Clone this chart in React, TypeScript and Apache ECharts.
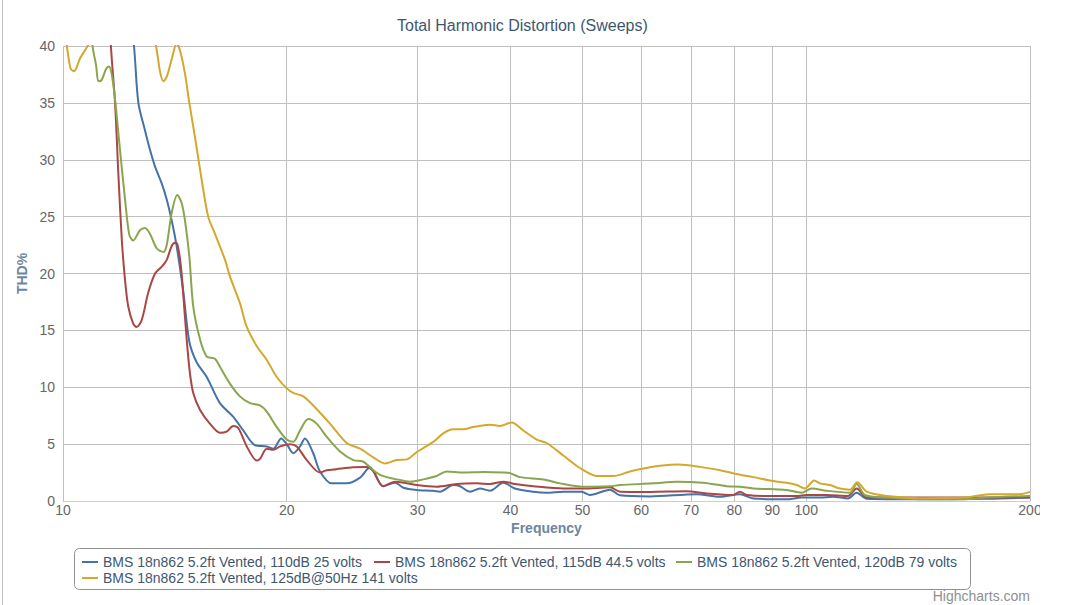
import React, { useEffect, useRef } from "react";
import * as echarts from "echarts";

const FONT = "'Liberation Sans', Arial, Helvetica, sans-serif";

const TITLE = "Total Harmonic Distortion (Sweeps)";
const X_NAME = "Frequency";
const Y_NAME = "THD%";
const FREQ_TICKS = [10, 20, 30, 40, 50, 60, 70, 80, 90, 100, 200];

const SERIES_NAMES = [
  "BMS 18n862 5.2ft Vented, 110dB 25 volts",
  "BMS 18n862 5.2ft Vented, 115dB 44.5 volts",
  "BMS 18n862 5.2ft Vented, 120dB 79 volts",
  "BMS 18n862 5.2ft Vented, 125dB@50Hz 141 volts",
];
const SERIES_COLORS = ["#4572A7", "#AA4643", "#89A54E", "#D4A82C"];

const blue110: [number, number][] = [
  [10, 80], [11.8, 55], [12.46, 40], [12.63, 35], [12.89, 32.6], [13.09, 30.9], [13.3, 29.4],
  [13.58, 27.9], [13.79, 26.5], [14.0, 24.7], [14.22, 22.4], [14.51, 18.5], [14.79, 14.0],
  [15.13, 12.2], [15.61, 10.9], [16.26, 8.6], [16.95, 7.4], [17.48, 6.2], [18.13, 4.9],
  [18.8, 4.8], [19.19, 4.6], [19.66, 5.5], [20.0, 5.0], [20.41, 4.2], [20.84, 4.8],
  [21.16, 5.5], [21.71, 4.2], [22.17, 2.6], [22.99, 1.55], [24.08, 1.55], [25.1, 2.05],
  [25.88, 2.96], [26.97, 1.3], [27.97, 1.6], [28.7, 1.17], [29.92, 0.97], [31.49, 0.9],
  [32.15, 0.82], [33.51, 1.4], [34.21, 1.3], [35.29, 0.82], [36.39, 1.1], [37.54, 0.9],
  [39.12, 1.6], [40.56, 1.1], [42.94, 0.82], [44.75, 0.73], [47.11, 0.82], [49.87, 0.82],
  [51.17, 0.53], [54.45, 1.0], [56.16, 0.5], [61.61, 0.4], [71.2, 0.6], [76.54, 0.38],
  [81.43, 0.6], [84.86, 0.23], [94.1, 0.15], [98.58, 0.3], [104.3, 0.3], [108.6, 0.38],
  [113.8, 0.23], [116.9, 0.73], [120.6, 0.2], [142.2, 0.15], [175, 0.2], [200, 0.3],
];

const red115: [number, number][] = [
  [10, 90], [11.3, 55], [11.6, 40], [11.75, 35], [11.87, 28.8], [12.0, 22.9], [12.12, 19.4],
  [12.24, 17.1], [12.43, 15.6], [12.56, 15.3], [12.76, 15.9], [13.02, 18.3], [13.3, 20.0],
  [13.58, 20.6], [13.79, 21.2], [14.0, 22.4], [14.15, 22.7], [14.25, 22.6], [14.41, 20.6],
  [14.59, 16.2], [14.7, 13.5], [14.82, 11.2], [14.97, 9.5], [15.29, 8.0], [15.76, 6.8],
  [16.26, 6.0], [16.6, 6.1], [16.95, 6.6], [17.22, 6.4], [17.67, 4.8], [18.23, 3.55],
  [18.41, 3.7], [18.8, 4.6], [19.19, 4.5], [19.59, 4.8], [20.2, 5.0], [20.63, 4.8],
  [21.28, 3.6], [22.17, 2.5], [22.63, 2.7], [23.34, 2.8], [24.58, 2.96], [25.63, 3.0],
  [26.15, 2.6], [26.97, 1.3], [27.97, 1.7], [29.92, 1.4], [31.82, 1.26], [33.86, 1.5],
  [36.03, 1.55], [37.54, 1.5], [39.12, 1.7], [40.56, 1.5], [42.94, 1.3], [47.11, 1.1],
  [50.12, 1.1], [54.45, 1.2], [56.16, 0.82], [61.61, 0.8], [69.02, 0.85], [73.45, 0.67],
  [79.68, 0.53], [81.43, 0.82], [83.14, 0.53], [89.38, 0.44], [97.07, 0.44], [100.1, 0.53],
  [106.5, 0.53], [113.8, 0.44], [116.9, 1.1], [120.6, 0.32], [200, 0.3],
];

const green120: [number, number][] = [
  [10, 70], [10.7, 50], [10.96, 40], [11.08, 38.3], [11.16, 36.9], [11.27, 37.0], [11.43, 38.0],
  [11.53, 38.2], [11.63, 37.5], [11.75, 35.3], [11.93, 30.9], [12.12, 26.5], [12.28, 23.4],
  [12.43, 22.9], [12.69, 23.8], [12.89, 24.0], [13.09, 23.5], [13.37, 22.2], [13.65, 21.9],
  [13.79, 22.5], [14.0, 25.3], [14.25, 26.9], [14.44, 26.2], [14.59, 24.7], [14.79, 21.5],
  [14.97, 17.1], [15.29, 14.2], [15.61, 12.7], [16.01, 12.5], [16.26, 11.8], [16.78, 10.3],
  [17.3, 9.2], [17.85, 8.6], [18.41, 8.4], [18.8, 7.85], [19.39, 6.5], [20.0, 5.4],
  [20.41, 5.2], [20.84, 6.2], [21.38, 7.2], [21.94, 6.8], [22.63, 5.65], [23.59, 4.35],
  [24.58, 3.6], [25.36, 3.45], [26.15, 2.7], [26.7, 2.3], [27.26, 2.1], [28.12, 1.9],
  [29.3, 1.7], [30.53, 1.9], [31.82, 2.2], [32.83, 2.6], [34.56, 2.5], [36.77, 2.55],
  [39.12, 2.5], [39.94, 2.45], [41.2, 2.1], [44.29, 1.9], [46.63, 1.55], [50.12, 1.26],
  [54.45, 1.3], [56.16, 1.4], [62.18, 1.55], [66.92, 1.7], [72.68, 1.6], [78.14, 1.3],
  [81.43, 1.25], [84.86, 1.1], [94.1, 0.97], [98.58, 0.73], [101.7, 1.1], [106.5, 0.9],
  [114.5, 0.73], [116.9, 1.5], [119.9, 0.53], [128.3, 0.3], [142.2, 0.15], [162.5, 0.15],
  [174.9, 0.3], [200, 0.45],
];

const yellow125: [number, number][] = [
  [10, 42], [10.12, 40], [10.24, 38.0], [10.35, 37.8], [10.54, 38.9], [10.7, 39.6], [10.81, 40.1],
  [11.2, 43], [12.3, 45], [13.0, 43], [13.34, 40], [13.51, 37.7], [13.65, 36.9], [13.79, 37.3],
  [14.0, 38.8], [14.22, 40.2], [14.37, 39.6], [14.59, 37.6], [14.79, 35.0], [15.05, 32.0],
  [15.37, 28.2], [15.68, 25.0], [16.01, 23.5], [16.52, 21.2], [16.78, 19.7], [17.3, 17.4],
  [17.67, 15.3], [18.23, 13.6], [18.8, 12.4], [19.39, 10.9], [20.0, 9.9], [20.41, 9.5],
  [21.05, 9.2], [21.71, 8.4], [22.87, 6.8], [24.08, 5.1], [25.1, 4.6], [26.15, 3.84],
  [27.12, 3.3], [28.12, 3.6], [29.01, 3.66], [29.92, 4.3], [31.49, 5.2], [32.48, 5.95],
  [33.51, 6.3], [34.56, 6.3], [35.65, 6.5], [37.54, 6.7], [38.72, 6.6], [40.14, 6.9],
  [41.63, 6.2], [43.39, 5.4], [44.75, 5.1], [47.11, 4.0], [49.61, 2.9], [52.24, 2.2],
  [55.0, 2.2], [57.93, 2.6], [61.61, 2.96], [63.54, 3.1], [67.25, 3.2], [71.94, 3.0],
  [76.54, 2.7], [80.18, 2.4], [84.86, 2.1], [90.29, 1.75], [94.1, 1.6], [97.07, 1.4],
  [99.6, 1.1], [102.5, 1.8], [104.3, 1.55], [107.6, 1.4], [111.0, 1.1], [114.5, 1.0],
  [117.1, 1.65], [120.6, 0.82], [128.3, 0.44], [142.2, 0.25], [162.5, 0.3], [176.7, 0.6],
  [193.9, 0.6], [200, 0.8],
];

const SERIES_DATA = [blue110, red115, green120, yellow125];

const LEGEND_LEFT = [82, 374, 676, 82];
const LEGEND_TOP = [555, 555, 555, 571];

export default function App() {
  const ref = useRef<HTMLDivElement>(null);

  useEffect(() => {
    if (!ref.current) return;
    const chart = echarts.init(ref.current, null, { renderer: "svg" });

    const series: any[] = SERIES_DATA.map((d, i) => ({
      name: SERIES_NAMES[i],
      type: "line",
      data: d,
      color: SERIES_COLORS[i],
      showSymbol: false,
      symbol: "none",
      smooth: 0.3,
      clip: true,
      z: 2,
      lineStyle: { width: 2, color: SERIES_COLORS[i] },
      emphasis: { disabled: true },
    }));

    series[0].markLine = {
      silent: true,
      z: 1,
      symbol: ["none", "none"],
      animation: false,
      lineStyle: { color: "#C0C0C0", width: 1, type: "solid" },
      label: {
        show: true,
        position: "start",
        distance: 2,
        formatter: "{b}",
        color: "#666666",
        fontSize: 14,
        fontFamily: FONT,
      },
      emphasis: { disabled: true },
      data: FREQ_TICKS.map((f) => ({ xAxis: f, name: String(f) })),
    };

    const option: any = {
      animation: false,
      textStyle: { fontFamily: FONT },
      title: {
        text: TITLE,
        left: 397,
        top: 17,
        padding: 0,
        textStyle: { color: "#3E576F", fontSize: 16, fontWeight: "normal", fontFamily: FONT },
      },
      grid: { left: 63, right: 40, top: 46, bottom: 104, containLabel: false, outerBoundsMode: "none" },
      xAxis: {
        type: "log",
        logBase: 10,
        min: 10,
        max: 200,
        name: X_NAME,
        nameLocation: "middle",
        nameGap: 20,
        nameTextStyle: { color: "#6D869F", fontSize: 14, fontWeight: "bold", fontFamily: FONT },
        axisLine: { show: true, lineStyle: { color: "#C0D0E0", width: 1 } },
        axisTick: { show: false },
        axisLabel: { show: false },
        splitLine: { show: false },
      },
      yAxis: {
        type: "value",
        min: 0,
        max: 40,
        interval: 5,
        name: Y_NAME,
        nameLocation: "middle",
        nameRotate: 90,
        nameGap: 30,
        nameTextStyle: { color: "#6D869F", fontSize: 14, fontWeight: "bold", fontFamily: FONT },
        axisLine: { show: false },
        axisTick: { show: false },
        axisLabel: { color: "#666666", fontSize: 14, margin: 8, fontFamily: FONT },
        splitLine: { show: true, lineStyle: { color: "#C0C0C0", width: 1 } },
      },
      legend: SERIES_NAMES.map((n, i) => ({
        data: [n],
        left: LEGEND_LEFT[i],
        top: LEGEND_TOP[i],
        icon: "rect",
        itemWidth: 16,
        itemHeight: 2,
        itemGap: 0,
        padding: 0,
        selectedMode: false,
        textStyle: { color: "#3E576F", fontSize: 14, fontFamily: FONT },
      })),
      graphic: [
        {
          type: "line",
          shape: { x1: 2.5, y1: 0, x2: 2.5, y2: 605 },
          style: { stroke: "#C0C0C0", lineWidth: 1 },
          silent: true,
        },
        {
          type: "rect",
          shape: { x: 74.5, y: 548.5, width: 896, height: 41, r: 5 },
          style: { fill: "none", stroke: "#909090", lineWidth: 1 },
          silent: true,
        },
        {
          type: "text",
          x: 1030,
          y: 596,
          style: {
            text: "Highcharts.com",
            fill: "#909090",
            font: `14px ${FONT}`,
            align: "right",
            verticalAlign: "middle",
          },
          silent: true,
        },
        {
          type: "rect",
          shape: { x: 1040, y: 503, width: 30, height: 22 },
          style: { fill: "#ffffff" },
          z: 100,
          silent: true,
        },
      ],
      series,
    };

    chart.setOption(option);
    return () => chart.dispose();
  }, []);

  return (
    <div
      ref={ref}
      style={{ position: "absolute", left: 0, top: 0, width: 1070, height: 605, background: "#ffffff" }}
    />
  );
}
